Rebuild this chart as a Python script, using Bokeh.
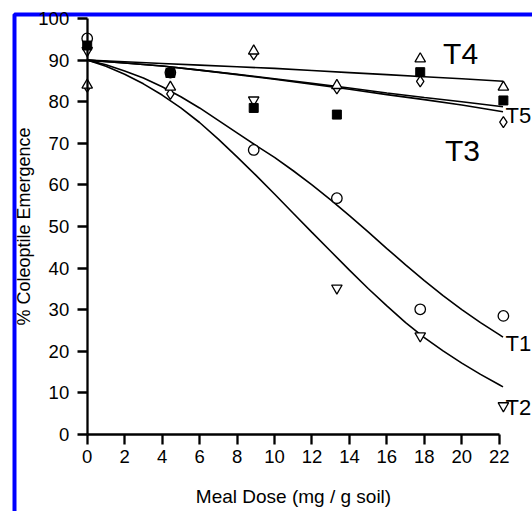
import math
from bokeh.plotting import figure
from bokeh.models import Range1d, FixedTicker, ColumnDataSource, BoxAnnotation
from bokeh.embed import file_html
from bokeh.resources import INLINE
from bokeh.core.properties import value

# ---- data ----
dose = [0, 4.44, 8.89, 13.33, 17.78, 22.22]
t1_obs = [95.2, 87.0, 68.4, 56.8, 30.1, 28.5]          # open circles
t2_obs = [92.3, math.nan, 80.4, 35.2, 23.7, 6.9]       # open inverted triangles
t3_obs = [83.6, 81.9, 91.4, 83.2, 84.9, 75.1]          # open diamonds
t4_obs = [84.0, 83.5, 92.2, 83.9, 90.3, 83.5]          # open triangles
t5_obs = [93.5, 86.9, 78.5, 76.9, 87.1, 80.3]          # filled squares

# fitted response curves
steep_dose = [0, 1, 2, 3, 4, 5, 6, 7, 8, 9, 10, 11, 12, 13, 14, 15, 16, 17, 18, 19, 20, 21, 22, 22.2]
t1_fit = [90, 88.9, 87.4, 85.7, 83.6, 81.2, 78.5, 75.5, 72.5, 69.5, 66.6, 63.4,
          60.0, 56.4, 52.6, 48.7, 44.7, 40.8, 37.0, 33.4, 30.0, 26.9, 24.0, 23.4]
t2_fit = [90, 88.5, 86.6, 84.3, 81.6, 78.5, 75.0, 71.0, 66.75, 62.35, 57.8, 53.2,
          48.6, 44.05, 39.5, 35.1, 30.9, 26.9, 23.3, 20.1, 17.15, 14.45, 11.95, 11.45]
flat_dose = [0, 2, 4, 6, 8, 10, 12, 14, 16, 18, 20, 22.2]
t3_fit = [90, 89.3, 88.6, 87.6, 86.5, 85.4, 84.2, 83.0, 81.7, 80.5, 79.2, 77.6]
t4_fit = [90, 89.6, 89.2, 88.8, 88.4, 88.0, 87.5, 87.0, 86.5, 86.0, 85.5, 84.9]
t5_fit = [90, 89.3, 88.6, 87.6, 86.6, 85.5, 84.4, 83.3, 82.1, 81.0, 80.0, 78.8]

x_ticks = [0, 2, 4, 6, 8, 10, 12, 14, 16, 18, 20, 22]
y_ticks = [0, 10, 20, 30, 40, 50, 60, 70, 80, 90, 100]

# series labels
inner_names = ["T3", "T4"]
inner_x = [19.1, 19.0]
inner_y = [68.3, 91.5]
end_names = ["T5", "T1", "T2"]
end_x = [22.33, 22.33, 22.33]
end_y = [76.7, 21.8, 6.6]

FONT = "Liberation Sans"
W, H = 532, 511
PX_PER_X = 18.73      # pixels per dose unit
PX_PER_Y = 4.16       # pixels per % unit
X0_PX, Y0_PX = 86.7, 434.0   # pixel position of the origin (0, 0)

x_start = -X0_PX / PX_PER_X
x_end = (W - X0_PX) / PX_PER_X
y_end = Y0_PX / PX_PER_Y
y_start = -(H - Y0_PX) / PX_PER_Y

p = figure(width=W, height=H,
           x_range=Range1d(x_start, x_end), y_range=Range1d(y_start, y_end),
           output_backend="svg", toolbar_location=None,
           min_border_left=0, min_border_right=0,
           min_border_top=0, min_border_bottom=0)
p.outline_line_color = None
p.grid.visible = False
p.background_fill_color = "white"
p.border_fill_color = "white"

for ax in (p.xaxis[0], p.yaxis[0]):
    ax.fixed_location = 0
    ax.axis_line_width = 2.3
    ax.axis_line_color = "black"
    ax.major_tick_line_width = 2.3
    ax.major_tick_line_color = "black"
    ax.major_tick_out = 10
    ax.major_tick_in = 0
    ax.minor_tick_line_color = None
    ax.major_label_text_font = FONT
    ax.major_label_text_font_size = "18.5px"
    ax.major_label_text_color = "black"
    ax.axis_label_text_font = FONT
    ax.axis_label_text_font_style = "normal"
    ax.axis_label_text_color = "black"

xa = p.xaxis[0]
xa.ticker = FixedTicker(ticks=x_ticks)
xa.bounds = (0, 22)
xa.major_label_standoff = 5
xa.axis_label = "Meal Dose (mg / g soil)"
xa.axis_label_text_font_size = "19px"
xa.axis_label_standoff = 20

ya = p.yaxis[0]
ya.ticker = FixedTicker(ticks=y_ticks)
ya.bounds = (0, 100)
ya.major_label_standoff = 8
ya.axis_label = "% Coleoptile Emergence"
ya.axis_label_text_font_size = "18px"
ya.axis_label_standoff = 2

# blue frame of the figure (left / top edge visible, bottom at the window edge)
bx_left = (14 - X0_PX) / PX_PER_X
bx_top = (Y0_PX - 14) / PX_PER_Y
bx_bottom = (Y0_PX - 512.5) / PX_PER_Y
bx_right = x_end + 2
p.add_layout(BoxAnnotation(left=bx_left, right=bx_right, top=bx_top, bottom=bx_bottom,
                           fill_alpha=0, fill_color=None, line_color="#0000ff",
                           line_alpha=1.0, line_width=4, level="underlay"))

# fitted curves
for fit in (t4_fit, t5_fit, t3_fit):
    p.line(flat_dose, fit, line_color="black", line_width=1.6)
for fit in (t1_fit, t2_fit):
    p.line(steep_dose, fit, line_color="black", line_width=1.6)

# observations
src = ColumnDataSource(dict(x=dose, t1=t1_obs, t2=t2_obs, t3=t3_obs, t4=t4_obs, t5=t5_obs))
p.scatter("x", "t1", source=src, marker="circle", size=10.5, fill_color="white",
          line_color="black", line_width=1.3)
p.scatter("x", "t2", source=src, marker="inverted_triangle", size=10.5, fill_color="white",
          line_color="black", line_width=1.3)
p.scatter("x", "t3", source=src, marker="diamond", size=11, fill_color="white",
          line_color="black", line_width=1.3)
p.scatter("x", "t4", source=src, marker="triangle", size=10.5, fill_color="white",
          line_color="black", line_width=1.3)
p.scatter("x", "t5", source=src, marker="square", size=9, fill_color="black",
          line_color="black", line_width=1)

# series labels
p.text(inner_x, inner_y, text=inner_names, text_font=value(FONT),
       text_font_size="30px", text_baseline="alphabetic", text_align="left",
       text_color="black")
p.text(end_x, end_y, text=end_names, text_font=value(FONT),
       text_font_size="22px", text_baseline="alphabetic", text_align="left",
       text_color="black")

open("out.html", "w").write(file_html(p, INLINE))
